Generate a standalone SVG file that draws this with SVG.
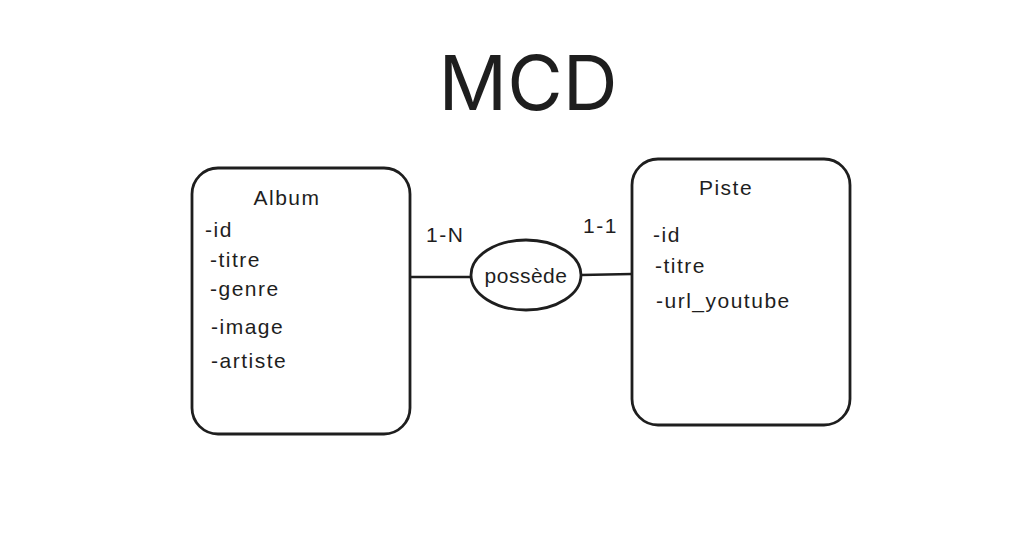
<svg xmlns="http://www.w3.org/2000/svg" width="1011" height="544" viewBox="0 0 1011 544">
<style>
.box{fill:#fff;stroke:#1e1e1e;stroke-width:2.8}
.t{font-family:"Liberation Sans",Arial,sans-serif;font-size:21px;letter-spacing:1.5px;fill:#1e1e1e}
.ln{stroke:#1e1e1e;stroke-width:2.5;fill:none}
</style>
<rect width="1011" height="544" fill="#fff"/>
<text x="528" y="110" text-anchor="middle" font-family="Inter,'Noto Sans',sans-serif" font-size="76" fill="#1e1e1e">MCD</text>
<g id="connectors">
<line class="ln" x1="410" y1="277" x2="471" y2="277"/>
<line class="ln" x1="581" y1="275" x2="632" y2="274"/>
</g>
<g id="album">
<rect class="box" x="192" y="168" width="218" height="266" rx="26"/>
<text class="t" x="287" y="205" text-anchor="middle">Album</text>
<text class="t" x="205" y="237">-id</text>
<text class="t" x="210" y="267">-titre</text>
<text class="t" x="210" y="296">-genre</text>
<text class="t" x="211" y="334">-image</text>
<text class="t" x="211" y="368">-artiste</text>
</g>
<g id="piste">
<rect class="box" x="632" y="159" width="218" height="266" rx="26"/>
<text class="t" x="726" y="195" text-anchor="middle">Piste</text>
<text class="t" x="653" y="242">-id</text>
<text class="t" x="655" y="273">-titre</text>
<text class="t" x="656" y="308">-url_youtube</text>
</g>
<g id="possede">
<ellipse class="box" cx="526" cy="275" rx="55" ry="35"/>
<text class="t" x="526" y="283" text-anchor="middle" style="letter-spacing:0.5px">possède</text>
</g>
<text class="t" x="426" y="242">1-N</text>
<text class="t" x="583" y="233">1-1</text>
</svg>
